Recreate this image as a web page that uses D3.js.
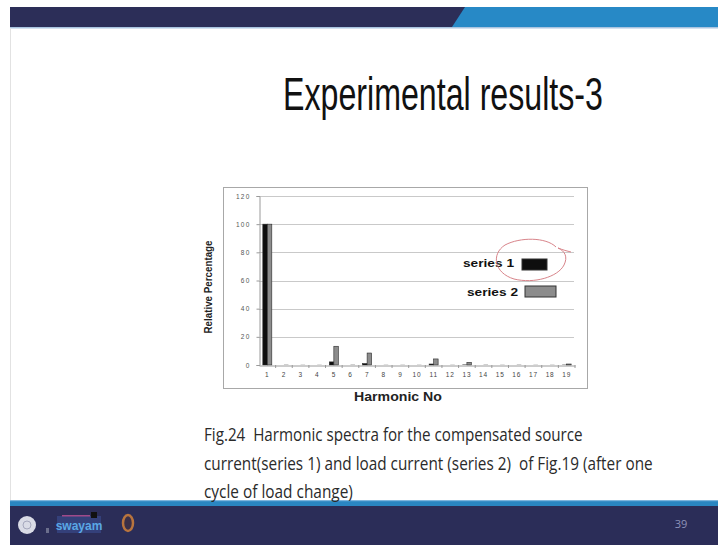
<!DOCTYPE html>
<html>
<head>
<meta charset="utf-8">
<script src="https://cdn.jsdelivr.net/npm/d3@7"></script>
<style>
  html, body { margin: 0; padding: 0; background: #fff; }
  svg { display: block; }
  text { white-space: pre; }
</style>
</head>
<body>
<svg id="slide" width="718" height="545"></svg>
<script>
// harmonic numbers (x categories)
const harmonics = ["1","2","3","4","5","6","7","8","9","10","11","12","13","14","15","16","17","18","19"];
// series 1 : compensated source current (% of fundamental)
const series1 = [100, 0, 0, 0, 2.2, 0, 1, 0, 0, 0, 0.7, 0, 0.3, 0, 0, 0, 0, 0, 0.2];
// series 2 : load current (% of fundamental)
const series2 = [100, 0.3, 0.2, 0.2, 13.3, 0.3, 8.5, 0.2, 0.2, 0.2, 4.3, 0.2, 1.9, 0.3, 0.2, 0.3, 0.2, 0.2, 0.7];
const seriesNames = ["series 1", "series 2"];
const yTicks = [0, 20, 40, 60, 80, 100, 120];

const titleText = "Experimental results-3";
const captionLines = [
    "Fig.24  Harmonic spectra for the compensated source",
    "current(series 1) and load current (series 2)  of Fig.19 (after one",
    "cycle of load change)"
];

var svg = d3.select("#slide");
var colors = { "series 1": "#0e0e0e", "series 2": "#8c8c8c" };

// squeeze a text horizontally to a given width (slide was captured squashed)
function fitWidth(sel, x, y, w) {
    sel.each(function() {
        var natural = this.getComputedTextLength();
        var k = w / natural;
        d3.select(this).attr("transform", "translate(" + x + "," + y + ") scale(" + k + ",1)");
    });
}

// ---- slide frame ----
svg.append("rect").attr("x", 10).attr("y", 7).attr("width", 708).attr("height", 20).attr("fill", "#2789c6");
svg.append("path")
    .attr("d", "M10,7 L465,7 L452,27 L10,27 Z")
    .attr("fill", "#2c2e58");
svg.append("rect").attr("x", 10).attr("y", 27).attr("width", 708).attr("height", 1.5).attr("fill", "#a9c4e0");
svg.append("line")
    .attr("x1", 10.5).attr("x2", 10.5).attr("y1", 28).attr("y2", 500)
    .attr("stroke", "#e2e2e2");

svg.append("rect").attr("x", 10).attr("y", 500).attr("width", 708).attr("height", 6).attr("fill", "#2a86c2");
svg.append("rect").attr("x", 10).attr("y", 500).attr("width", 708).attr("height", 1.2).attr("fill", "#7fb6de");
svg.append("rect").attr("x", 10).attr("y", 506).attr("width", 708).attr("height", 39).attr("fill", "#2b2d58");

// footer logos (rough)
svg.append("circle").attr("cx", 27).attr("cy", 525).attr("r", 9).attr("fill", "#d9dbe6");
svg.append("circle").attr("cx", 27).attr("cy", 525).attr("r", 4).attr("fill", "none").attr("stroke", "#a5a8bd");
svg.append("rect").attr("x", 46).attr("y", 528).attr("width", 3).attr("height", 5).attr("fill", "#6b6e8c");
svg.append("rect").attr("x", 57).attr("y", 516).attr("width", 44).attr("height", 17).attr("fill", "#34407a");
svg.append("rect").attr("x", 62).attr("y", 515).attr("width", 28).attr("height", 1.5).attr("fill", "#a04a8a");
svg.append("rect").attr("x", 91).attr("y", 512).attr("width", 6).attr("height", 6).attr("fill", "#111");
svg.append("text").attr("x", 79).attr("y", 530)
    .attr("text-anchor", "middle").attr("font-family", "Liberation Sans, Arial, sans-serif")
    .attr("font-size", 12).attr("font-weight", "bold").attr("fill", "#5aa8e6")
    .text("swayam");
svg.append("ellipse").attr("cx", 128).attr("cy", 523).attr("rx", 5).attr("ry", 8)
    .attr("fill", "#3a2f48").attr("stroke", "#b8743e").attr("stroke-width", 2.5);
svg.append("text").attr("x", 681).attr("y", 528)
    .attr("text-anchor", "middle").attr("font-family", "Open Sans, sans-serif")
    .attr("font-size", 11).attr("fill", "#8e93b8")
    .text("39");

// ---- title ----
svg.append("text")
    .attr("font-family", "Liberation Sans, Arial, sans-serif")
    .attr("font-size", 46)
    .attr("fill", "#111")
    .text(titleText)
    .call(fitWidth, 283, 110, 320);

// ---- chart ----
svg.append("rect")
    .attr("x", 223.5).attr("y", 187.5).attr("width", 364).attr("height", 201)
    .attr("fill", "#fff").attr("stroke", "#a8a8a8");

var x = d3.scaleBand()
    .domain(harmonics)
    .range([259, 575])
    .padding(0);

var x1 = d3.scaleBand()
    .domain(seriesNames)
    .range([0, x.bandwidth()])
    .paddingOuter(0.85);

var y = d3.scaleLinear()
    .domain([0, 120])
    .range([365, 196]);

// gridlines
svg.append("g")
    .selectAll("line")
    .data(yTicks.filter(function(d) { return d > 0; }))
    .enter().append("line")
    .attr("x1", 259).attr("x2", 574)
    .attr("y1", function(d) { return Math.round(y(d)) + 0.5; })
    .attr("y2", function(d) { return Math.round(y(d)) + 0.5; })
    .attr("stroke", "#c9c9c9");

// y axis
var yAxis = svg.append("g")
    .attr("transform", "translate(259.5,0)")
    .call(d3.axisLeft(y).tickValues(yTicks).tickSize(3).tickPadding(6).tickFormat(d3.format("d")));
yAxis.select(".domain").attr("stroke", "#9a9a9a");
yAxis.selectAll(".tick line").attr("stroke", "#9a9a9a");
yAxis.selectAll("text")
    .attr("font-family", "Liberation Sans, Arial, sans-serif")
    .attr("font-size", 6.5).attr("fill", "#555")
    .attr("letter-spacing", 1.2);

// bars
var groups = svg.append("g")
    .selectAll("g")
    .data(harmonics)
    .enter().append("g")
    .attr("transform", function(d) { return "translate(" + x(d) + ",0)"; });

groups.selectAll("rect")
    .data(function(d, i) {
        return [
            { key: "series 1", value: series1[i] },
            { key: "series 2", value: series2[i] }
        ];
    })
    .enter().append("rect")
    .attr("x", function(d) { return x1(d.key); })
    .attr("width", x1.bandwidth())
    .attr("y", function(d) { return y(d.value); })
    .attr("height", function(d) { return y(0) - y(d.value); })
    .attr("fill", function(d) { return colors[d.key]; })
    .attr("stroke", function(d) { return d.value > 0.5 ? "#2a2a2a" : "none"; })
    .attr("stroke-width", 0.6);

// x axis
var xAxis = svg.append("g")
    .attr("transform", "translate(0,365.5)")
    .call(d3.axisBottom(x).tickSize(0).tickPadding(7));
xAxis.select(".domain").attr("stroke", "#9a9a9a");
xAxis.selectAll("text")
    .attr("font-family", "Liberation Sans, Arial, sans-serif")
    .attr("font-size", 6.5).attr("fill", "#444")
    .attr("letter-spacing", 0.8);
// small marks between categories
svg.append("g")
    .selectAll("line")
    .data(harmonics)
    .enter().append("line")
    .attr("x1", function(d) { return x(d) + x.bandwidth(); })
    .attr("x2", function(d) { return x(d) + x.bandwidth(); })
    .attr("y1", 365).attr("y2", 368)
    .attr("stroke", "#9a9a9a");

// axis titles
svg.append("text")
    .attr("font-family", "Liberation Sans, Arial, sans-serif")
    .attr("font-size", 12).attr("font-weight", "bold").attr("fill", "#222")
    .text("Harmonic No")
    .call(fitWidth, 354, 401, 88);

svg.append("text")
    .attr("transform", "translate(212,287) rotate(-90)")
    .attr("text-anchor", "middle")
    .attr("font-family", "Liberation Sans, Arial, sans-serif")
    .attr("font-size", 11).attr("font-weight", "bold").attr("fill", "#222")
    .attr("textLength", 93).attr("lengthAdjust", "spacingAndGlyphs")
    .text("Relative Percentage");

// legend
var legendRows = [
    { name: seriesNames[0], tx: 463, ty: 267, bx: 522, by: 259, bw: 25, bh: 11 },
    { name: seriesNames[1], tx: 467, ty: 296, bx: 525, by: 286, bw: 31, bh: 11 }
];
var legend = svg.append("g").selectAll("g").data(legendRows).enter().append("g");
legend.append("text")
    .attr("x", function(d) { return d.tx; })
    .attr("y", function(d) { return d.ty; })
    .attr("font-family", "Liberation Sans, Arial, sans-serif")
    .attr("font-size", 11).attr("font-weight", "bold").attr("fill", "#111")
    .attr("textLength", 51).attr("lengthAdjust", "spacingAndGlyphs")
    .text(function(d) { return d.name; });
legend.append("rect")
    .attr("x", function(d) { return d.bx; })
    .attr("y", function(d) { return d.by; })
    .attr("width", function(d) { return d.bw; })
    .attr("height", function(d) { return d.bh; })
    .attr("fill", function(d) { return colors[d.name]; })
    .attr("stroke", "#333").attr("stroke-width", 1);

// hand-drawn red circle around series 1
svg.append("path")
    .attr("d", "M556,247 C546,237 520,237 505,245 C491,254 494,273 514,279 C534,284 558,277 564,265 C568,257 565,251 558,248 C563,250 567,251 571,252")
    .attr("fill", "none")
    .attr("stroke", "#d8848a")
    .attr("stroke-width", 1);

// ---- caption ----
var capX = 204;
var capLen = [379, 449, 149];
var capY = [441, 470, 498];
svg.append("g").selectAll("text")
    .data(captionLines)
    .enter().append("text")
    .attr("font-family", "Open Sans, sans-serif")
    .attr("font-size", 19)
    .attr("fill", "#2a2a2a")
    .text(function(d) { return d; })
    .each(function(d, i) {
        d3.select(this).call(fitWidth, capX, capY[i], capLen[i]);
    });
</script>
</body>
</html>
